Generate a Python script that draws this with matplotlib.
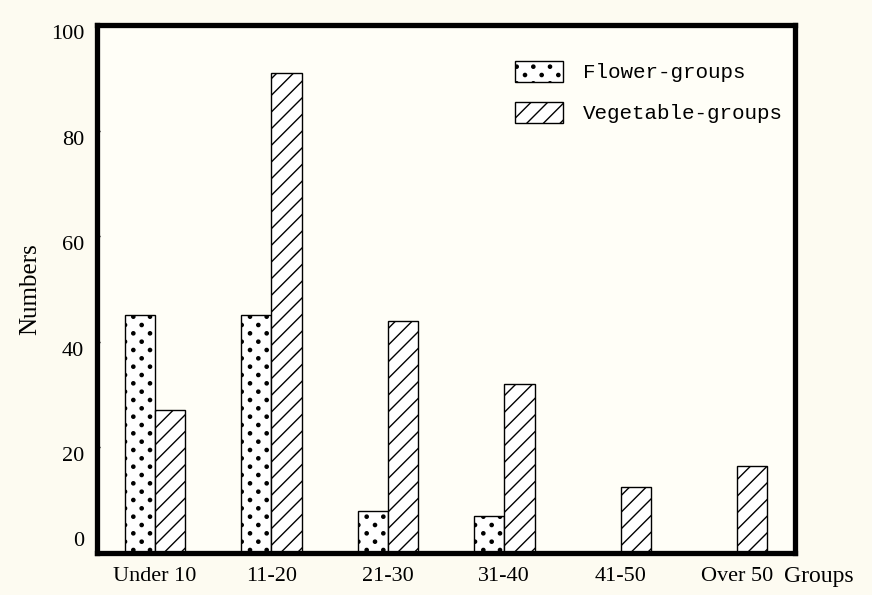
import matplotlib
matplotlib.use("Agg")
import matplotlib.pyplot as plt
import matplotlib.transforms as mtransforms
import matplotlib.hatch as mhatch
from matplotlib.path import Path
import numpy as np
from matplotlib import font_manager

categories = ["Under 10", "11-20", "21-30", "31-40", "41-50", "Over 50"]
flower = [45, 45, 8, 7, 0, 0]
vegetable = [27, 91, 44, 32, 12.5, 16.5]
series_names = ["Flower-groups", "Vegetable-groups"]
yticks = [0, 20, 40, 60, 80, 100]

names = {f.name for f in font_manager.fontManager.ttflist}
serif = "DejaVu Serif Condensed" if "DejaVu Serif Condensed" in names else "Liberation Serif"
mono = "Liberation Mono"


# Staggered dot hatch: rows twice as dense as the in-row spacing (as in the print)
class SparseDots(mhatch.HatchPatternBase):
    radius = 0.016

    def __init__(self, hatch, density):
        n = hatch.count('.') * density
        self.n = n
        path = Path.unit_circle()
        self.shape_vertices = path.vertices
        self.shape_codes = path.codes
        if n == 0:
            self.num_vertices = 0
        else:
            num_shapes = (n + 1) * (n + 1) + n * n
            self.num_vertices = num_shapes * len(self.shape_vertices)

    def set_vertices_and_codes(self, vertices, codes):
        n = self.n
        step = 1.0 / n
        sv = self.shape_vertices * self.radius
        vparts, cparts = [], []
        for row in range(2 * n + 1):
            if row % 2 == 0:
                cols = np.linspace(0, 1, n + 1)
            else:
                cols = np.linspace(step / 2, 1 - step / 2, n)
            ypos = row * step / 2
            for c in cols:
                vparts.append(sv + [c, ypos])
                cparts.append(self.shape_codes)
        np.concatenate(vparts, out=vertices)
        np.concatenate(cparts, out=codes)


mhatch._hatch_types[:] = [SparseDots if t is mhatch.SmallFilledCircles else t
                          for t in mhatch._hatch_types]

bg = "#fdfbf1"
fig = plt.figure(figsize=(8.72, 5.95), dpi=100, facecolor=bg)
ax = fig.add_axes([0.111, 0.0706, 0.801, 0.8874], facecolor="#fffef7")

x = np.arange(len(categories))
w = 0.26
fl = [v if v > 0 else np.nan for v in flower]
plt.rcParams["hatch.linewidth"] = 1.0
ax.bar(x - w / 2, fl, w, facecolor="white", edgecolor="black", linewidth=1.0,
       hatch=".", label=series_names[0])
plt.rcParams["hatch.linewidth"] = 1.0
ax.bar(x + w / 2, vegetable, w, facecolor="white", edgecolor="black", linewidth=1.0,
       hatch="//", label=series_names[1])

ax.set_xlim(-0.5, len(categories) - 0.5)
ax.set_ylim(0, 100)
ax.set_yticks(yticks)
ax.set_yticklabels([str(t) for t in yticks], fontfamily=serif, fontsize=16)
ax.set_xticks(x)
ax.set_xticklabels(categories, fontfamily=serif, fontsize=16)
ax.tick_params(axis="y", direction="in", length=2, width=1, pad=9)
ax.tick_params(axis="x", length=0, pad=10)

# shift y tick labels slightly as in the reference
for t, lab in zip(yticks, ax.get_yticklabels()):
    dy = 10 / 72 if t == 0 else -5 / 72
    lab.set_transform(lab.get_transform() +
                      mtransforms.ScaledTranslation(0, dy, fig.dpi_scale_trans))

for s in ax.spines.values():
    s.set_linewidth(3.8)
    s.set_color("black")

ax.set_ylabel("Numbers", fontfamily=serif, fontsize=18, labelpad=7)
ax.set_xlabel("Groups", fontfamily=serif, fontsize=17, ha="left")
ax.xaxis.set_label_coords(0.984, -0.024)
ax.xaxis.label.set_va("top")

leg = ax.legend(loc="upper left", bbox_to_anchor=(0.599, 0.932), frameon=False,
                prop={"family": mono, "size": 15}, handlelength=2.3, handleheight=1.15,
                handletextpad=0.95, labelspacing=0.95, borderpad=0, borderaxespad=0)

fig.savefig("out.png", dpi=100, facecolor=bg)
